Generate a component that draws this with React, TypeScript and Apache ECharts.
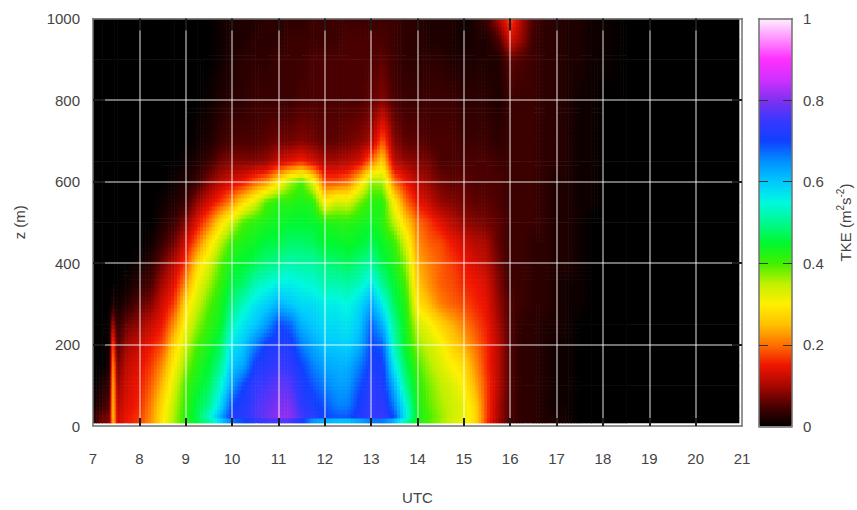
import React, { useEffect, useRef } from "react";
import * as echarts from "echarts";

const xTicks = [7, 21];
const xInnerTicks = [8, 9, 10, 11, 12, 13, 14, 15, 16, 17, 18, 19, 20];
const yInnerTicks = [200, 400, 600, 800];
const barInnerTicks = [0.2, 0.4, 0.6, 0.8];
const times = [7, 7.2, 7.36, 7.41, 7.46, 7.52, 7.75, 8, 8.25, 8.5, 8.75, 9, 9.25, 9.5, 9.75, 10, 10.25, 10.5, 10.75, 11, 11.25, 11.5, 11.75, 12, 12.25, 12.5, 12.75, 13, 13.25, 13.5, 13.75, 14, 14.25, 14.5, 14.75, 15, 15.25, 15.5, 15.75, 16, 16.25, 16.5, 16.75, 17, 17.25, 17.5, 17.75, 18, 18.5, 20.93];
const heights = [8, 20, 50, 100, 150, 200, 250, 300, 350, 400, 450, 500, 550, 600, 650, 700, 800, 900, 950, 1000];
// TKE in hundredths of m2 s-2: one list per time, one entry per height
const tke = [
  [3,3,1,0,0,0,0,0,0,0,0,0,0,0,0,0,0,0,0,0],
  [7,7,4,2,0,0,0,0,0,0,0,0,0,0,0,0,0,0,0,0],
  [8,8,6,4,2,1,1,0,0,0,0,0,0,0,0,0,0,0,0,0],
  [22,23,23,22,20,17,10,2,0,0,0,0,0,0,0,0,0,0,0,0],
  [23,24,23,22,20,15,8,2,0,0,0,0,0,0,0,0,0,0,0,0],
  [12,12,11,9,7,5,3,1,0,0,0,0,0,0,0,0,0,0,0,0],
  [15,15,14,13,12,10,7,3,1,0,0,0,0,0,0,0,0,0,0,0],
  [17,17,16,15,14,12,9,6,3,1,0,0,0,0,0,0,0,0,0,0],
  [22,22,21,19,17,15,12,8,5,3,1,0,0,0,0,0,0,0,0,0],
  [29,29,28,25,22,18,15,13,10,7,4,2,1,0,0,0,0,0,0,0],
  [36,36,35,33,30,27,22,17,14,11,7,4,2,1,0,0,0,0,0,0],
  [41,42,41,40,37,34,31,28,22,17,13,8,4,2,1,0,0,0,0,0],
  [45,47,46,44,42,40,37,34,31,27,20,14,9,4,2,1,0,0,0,0],
  [48,54,50,47,45,43,41,39,36,33,28,20,13,8,4,2,1,0,0,0],
  [55,63,58,54,50,47,44,43,41,39,35,28,17,11,7,4,2,1,1,1],
  [62,72,70,64,60,57,53,49,46,44,41,34,22,13,8,5,3,2,2,2],
  [66,73,72,70,63,60,57,53,48,45,43,40,28,15,8,5,3,3,2,2],
  [70,76,76,74,71,66,60,57,52,47,44,42,33,19,8,5,4,3,3,2],
  [72,79,78,76,73,71,64,59,54,49,46,43,40,22,9,6,4,3,3,3],
  [72,81,80,78,75,72,70,62,56,50,46,44,42,29,12,7,4,4,3,3],
  [72,81,80,77,74,72,68,60,56,52,48,45,42,36,14,7,4,4,4,3],
  [66,76,74,72,70,66,62,58,55,51,48,45,43,40,16,8,5,4,4,3],
  [56,73,71,69,66,63,60,58,54,51,47,45,42,32,13,7,5,5,4,4],
  [54,70,69,66,63,60,58,56,52,49,45,43,30,18,10,6,5,5,4,4],
  [53,69,66,64,62,60,58,56,52,48,45,42,34,18,10,6,5,5,4,4],
  [53,69,66,64,62,59,57,55,51,47,44,42,33,20,11,7,5,5,5,4],
  [54,72,71,69,66,62,60,58,53,49,45,43,38,27,13,8,5,5,5,4],
  [58,75,74,73,71,70,68,63,57,51,47,44,42,37,20,10,6,5,5,4],
  [58,75,74,72,71,68,62,56,50,46,44,42,42,36,27,19,8,6,5,4],
  [54,70,66,62,56,52,50,47,45,43,41,35,30,20,11,8,5,4,4,4],
  [48,56,55,50,47,44,43,42,40,37,33,27,20,15,9,6,4,3,3,3],
  [42,44,43,42,40,37,34,29,26,24,22,20,15,11,8,6,4,3,3,3],
  [39,40,39,38,36,34,31,25,22,21,19,17,12,9,7,5,4,3,2,2],
  [36,37,36,35,33,31,27,21,19,19,18,14,9,7,5,5,4,3,2,2],
  [33,34,34,33,30,27,24,19,18,17,15,11,8,6,5,5,4,2,2,2],
  [31,32,32,30,28,24,21,18,16,15,13,9,7,6,5,4,3,2,1,1],
  [27,28,27,24,22,20,18,16,15,13,11,8,6,5,5,4,3,2,2,2],
  [16,17,17,17,16,16,15,14,13,11,10,7,6,5,5,4,3,2,2,4],
  [9,10,10,11,11,11,10,9,8,7,6,6,5,5,4,3,2,2,5,10],
  [4,5,5,5,5,5,5,5,4,4,4,4,4,4,4,4,4,6,13,18],
  [3,3,3,3,3,3,3,4,4,4,4,4,4,4,4,4,4,5,9,10],
  [3,3,3,3,3,3,3,3,3,3,3,4,4,4,4,4,4,4,4,5],
  [2,2,2,2,2,2,2,3,3,3,3,3,3,3,3,3,3,3,3,3],
  [2,2,1,1,1,1,2,2,2,2,2,2,2,2,3,3,3,3,3,3],
  [1,1,1,1,1,1,1,1,1,2,2,2,2,2,2,2,2,2,2,2],
  [0,0,0,0,0,0,0,1,1,1,1,1,1,1,1,1,1,2,2,2],
  [0,0,0,0,0,0,0,0,0,0,0,0,1,1,1,1,1,1,1,1],
  [0,0,0,0,0,0,0,0,0,0,0,0,0,0,0,0,0,1,1,1],
  [0,0,0,0,0,0,0,0,0,0,0,0,0,0,0,0,0,0,0,0],
  [0,0,0,0,0,0,0,0,0,0,0,0,0,0,0,0,0,0,0,0],
];
const palette = ["#000000","#4a0000","#a80800","#f01400","#ff7000","#ffc000","#fff000","#c0f000","#40f000","#00f830","#00f890","#00f8e0","#00c8ff","#0090ff","#1040ff","#3838ff","#8030f0","#d030ff","#ff30ff","#ff90ff","#fff0ff"];

const cells: number[][] = [];
for (let i = 0; i < times.length - 1; i++) {
  for (let j = 0; j < heights.length - 1; j++) {
    cells.push([times[i], heights[j], tke[i][j], i, j]);
  }
}

const INK = "#444444";
const FRAME = "#707070";
const TICK = "#1c1c1c";
const FONT = "Liberation Sans";
const GRIDLINE = "rgba(255,255,255,0.6)";

const renderCell = (params: any, api: any) => {
  const i = api.value(3);
  const j = api.value(4);
  const p0 = api.coord([times[i], heights[j]]);
  const p1 = api.coord([times[i + 1], heights[j + 1]]);
  const v00 = tke[i][j] / 100;
  const v10 = tke[i + 1][j] / 100;
  const v01 = tke[i][j + 1] / 100;
  const v11 = tke[i + 1][j + 1] / 100;
  const w = p1[0] - p0[0];
  const h = p0[1] - p1[1];
  const flat = Math.max(v00, v10, v01, v11) - Math.min(v00, v10, v01, v11) < 0.006;
  const nx = flat ? 1 : Math.max(2, Math.round(w / 3));
  const ny = flat ? 1 : Math.max(1, Math.round(h / 4));
  const children: any[] = [];
  for (let a = 0; a < nx; a++) {
    for (let b = 0; b < ny; b++) {
      const tx = nx === 1 ? 0.5 : (a + 0.5) / nx;
      const ty = ny === 1 ? 0.5 : (b + 0.5) / ny;
      const v = (v00 * (1 - tx) + v10 * tx) * (1 - ty) + (v01 * (1 - tx) + v11 * tx) * ty;
      children.push({
        type: "rect",
        shape: {
          x: p0[0] + (a * w) / nx,
          y: p0[1] - ((b + 1) * h) / ny,
          width: w / nx + 0.6,
          height: h / ny + 0.6,
        },
        style: { fill: echarts.color.lerp(v, palette), stroke: "none" },
      });
    }
  }
  return { type: "group", children };
};

const baseLabel = { color: INK, fontFamily: FONT, fontSize: 15 };
const frameLine = { show: true, lineStyle: { color: FRAME, width: 1.5 } };
const tickOf = (length: number, customValues: number[]) => ({ show: true, inside: true, length, customValues, lineStyle: { color: TICK, width: 2 } });
const barTick = { show: true, inside: true, length: 9, customValues: barInnerTicks, lineStyle: { color: "#333333", width: 1 } };

export default function App() {
  const ref = useRef<HTMLDivElement>(null);
  useEffect(() => {
    document.body.style.margin = "0";
    const chart = echarts.init(ref.current!, undefined, { renderer: "svg" });
    chart.setOption({
      animation: false,
      backgroundColor: "#ffffff",
      textStyle: { fontFamily: FONT },
      grid: [
        { left: 93, top: 18.5, width: 649, height: 408 },
        { left: 759, top: 18.5, width: 33, height: 408 },
      ],
      visualMap: {
        type: "continuous",
        seriesIndex: [],
        min: 0,
        max: 1,
        show: true,
        calculable: false,
        hoverLink: false,
        itemWidth: 33,
        itemHeight: 408,
        left: 759,
        top: 18.5,
        padding: 0,
        z: 3,
        inRange: { color: palette },
      },
      xAxis: [
        {
          type: "value", gridIndex: 0, min: xTicks[0], max: xTicks[1], interval: 1, z: 6,
          name: "UTC", nameLocation: "middle", nameGap: 64,
          nameTextStyle: { ...baseLabel },
          axisLine: { ...frameLine, onZero: false }, axisTick: tickOf(8, xInnerTicks),
          axisLabel: { ...baseLabel, margin: 25 },
          splitLine: { show: true, lineStyle: { color: GRIDLINE, width: 1.5 } },
        },
        {
          type: "value", gridIndex: 0, position: "top", min: xTicks[0], max: xTicks[1], interval: 1, z: 6,
          axisLine: { ...frameLine, onZero: false }, axisTick: tickOf(12, xInnerTicks),
          axisLabel: { show: false }, splitLine: { show: false },
        },
        {
          type: "value", gridIndex: 1, min: 0, max: 1, z: 6,
          axisLine: { ...frameLine, onZero: false }, axisTick: { show: false },
          axisLabel: { show: false }, splitLine: { show: false },
        },
        {
          type: "value", gridIndex: 1, position: "top", min: 0, max: 1, z: 6,
          axisLine: { ...frameLine, onZero: false }, axisTick: { show: false },
          axisLabel: { show: false }, splitLine: { show: false },
        },
      ],
      yAxis: [
        {
          type: "value", gridIndex: 0, min: 0, max: 1000, interval: 200, z: 6,
          name: "z (m)", nameLocation: "middle", nameRotate: 90, nameGap: 66,
          nameTextStyle: { ...baseLabel },
          axisLine: { ...frameLine, onZero: false }, axisTick: tickOf(12, yInnerTicks),
          axisLabel: { ...baseLabel, margin: 13, formatter: (v: number) => String(v) },
          splitLine: { show: true, lineStyle: { color: GRIDLINE, width: 1.5 } },
        },
        {
          type: "value", gridIndex: 0, position: "right", min: 0, max: 1000, interval: 200, z: 6,
          axisLine: { ...frameLine, onZero: false }, axisTick: tickOf(10, yInnerTicks),
          axisLabel: { show: false }, splitLine: { show: false },
        },
        {
          type: "value", gridIndex: 1, position: "left", min: 0, max: 1, interval: 0.2, z: 6,
          axisLine: { ...frameLine, onZero: false }, axisTick: barTick,
          axisLabel: { show: false }, splitLine: { show: false },
        },
        {
          type: "value", gridIndex: 1, position: "right", min: 0, max: 1, interval: 0.2, z: 6,
          name: "{a|TKE (m}{s|2}{a|s}{s|-2}{a|)}", nameLocation: "middle", nameRotate: 90, nameGap: 43,
          nameTextStyle: {
            ...baseLabel,
            rich: {
              a: { ...baseLabel, lineHeight: 18, verticalAlign: "bottom" },
              s: { ...baseLabel, fontSize: 10, lineHeight: 18, verticalAlign: "top" },
            },
          },
          axisLine: { ...frameLine, onZero: false }, axisTick: barTick,
          axisLabel: { ...baseLabel, margin: 11, formatter: (v: number) => String(v) },
          splitLine: { show: false },
        },
      ],
      series: [
        {
          type: "custom",
          xAxisIndex: 0,
          yAxisIndex: 0,
          silent: true,
          z: 2,
          clip: true,
          data: cells,
          encode: { x: 0, y: 1 },
          renderItem: renderCell,
        },
      ],
    });
    return () => chart.dispose();
  }, []);
  return <div ref={ref} style={{ width: 857, height: 510, display: "block" }} />;
}
